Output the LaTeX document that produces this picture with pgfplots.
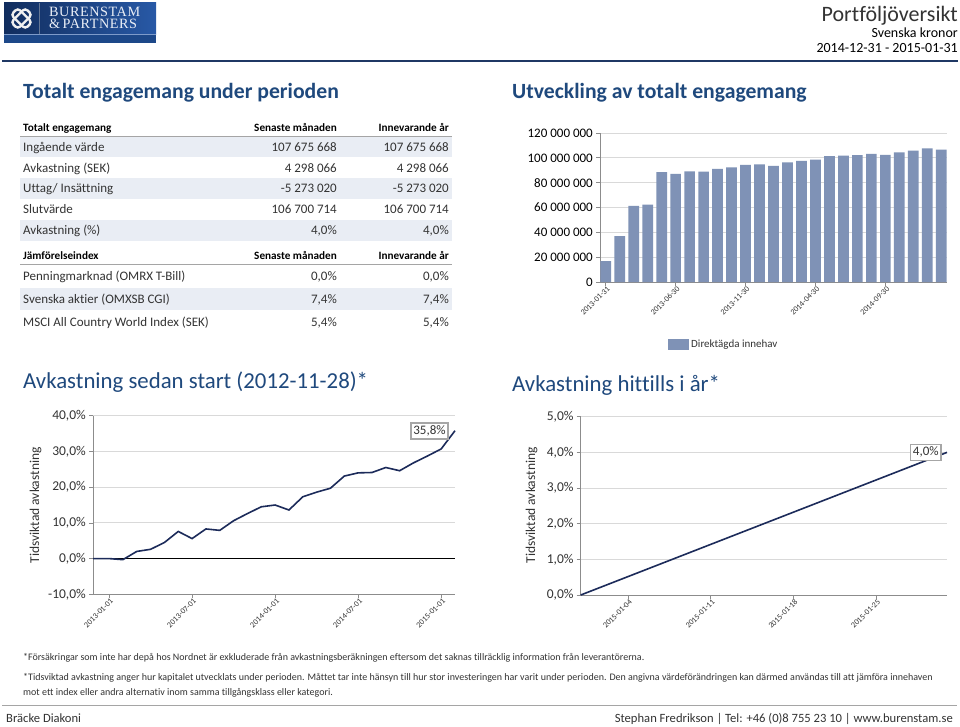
\documentclass[border=0pt]{standalone}
\usepackage{pgfplots}
\pgfplotsset{compat=1.18}
\usepackage{fontspec}
\setmainfont{Carlito}[Ligatures={NoCommon}]
\newfontfamily\logofont{Liberation Serif}[LetterSpace=4]
\definecolor{titleblue}{HTML}{1F497D}
\definecolor{txt}{HTML}{333333}
\definecolor{rowfill}{HTML}{E9EDF4}
\definecolor{hdrline}{HTML}{A5A5A5}
\definecolor{barblue}{HTML}{7F92B6}
\definecolor{linenavy}{HTML}{1C2B5A}
\definecolor{gridgray}{HTML}{D9D9D9}
\definecolor{axisgray}{HTML}{8C8C8C}
\definecolor{topline}{HTML}{1F3864}
\definecolor{logodark}{HTML}{112D5E}
\definecolor{logolight}{HTML}{2859A6}
\definecolor{logoband}{HTML}{1D4889}
\definecolor{boxgray}{HTML}{A6A6A6}
\newcommand\fs[1]{\fontsize{#1}{#1}\selectfont}
\pgfplotsset{
  rep/.style={
    scale only axis, anchor=south west,
    axis x line*=bottom, axis y line*=left,
    axis line style={draw=axisgray,-, line width=0.8pt},
    tick style={draw=axisgray, line width=0.7pt},
    tick align=outside, major tick length=4pt,
    ymajorgrids, grid style={draw=gridgray, line width=0.8pt},
    ticklabel style={text=txt},
    xticklabel style={rotate=45, anchor=east, font=\fs{8}, inner sep=1pt, xshift=2pt, yshift=-3pt},
    yticklabel style={font=\fs{13.5}, inner sep=2pt, xshift=-1pt},
    scaled ticks=false,
    clip=false,
  }
}
\begin{document}
\begin{tikzpicture}
\path[use as bounding box, fill=white] (0pt,0pt) rectangle (960pt,-726pt);
\begin{scope}[x=1pt,y=-1pt]
% ---------- logo ----------
\shade[left color=logodark, right color=logolight] (4,2) rectangle (156,34);
\fill[logoband] (4,34) rectangle (156,43);
\draw[white!40!logolight, line width=0.6pt] (4,34) -- (156,34);
\draw[white!35!logodark, line width=0.8pt] (39,3) -- (39,34);
\begin{scope}[shift={(21.5,18.5)}]
  \draw[white!88!gray, line width=2.4pt, rounded corners=3.5pt, rotate=45] (-10,-4.8) rectangle (10,4.8);
  \draw[white!88!gray, line width=2.4pt, rounded corners=3.5pt, rotate=-45] (-10,-4.8) rectangle (10,4.8);
\end{scope}
\node[anchor=base west, inner sep=0, text=white!90!logolight, font=\logofont\fs{14.2}] at (49,16.7) {BURENSTAM};
\node[anchor=base west, inner sep=0, text=white!90!logolight, font=\logofont\fs{14.2}] at (49,28.3) {\&\,PARTNERS};
% ---------- header right ----------
\node[anchor=base east, inner sep=0, text=txt, font=\fs{22}] at (958,21) {Portföljöversikt};
\node[anchor=base east, inner sep=0, text=black, font=\fs{14}] at (958,37) {Svenska kronor};
\node[anchor=base east, inner sep=0, text=black, font=\fs{14}] at (958,52) {2014-12-31 - 2015-01-31};
\draw[topline, line width=1.6pt] (2,61) -- (958,61);
% ---------- titles ----------
\node[anchor=base west, inner sep=0, text=titleblue, font=\bfseries\fs{21.7}] at (23,98) {Totalt engagemang under perioden};
\node[anchor=base west, inner sep=0, text=titleblue, font=\bfseries\fs{21.7}] at (512,98) {Utveckling av totalt engagemang};
\node[anchor=base west, inner sep=0, text=titleblue, font=\fs{22.8}] at (23,388) {Avkastning sedan start (2012-11-28)*};
\node[anchor=base west, inner sep=0, text=titleblue, font=\fs{22.8}] at (512,391) {Avkastning hittills i år*};
% ---------- table 1 ----------
\fill[rowfill] (20,137) rectangle (452,157);
\fill[rowfill] (20,178) rectangle (452,198.5);
\fill[rowfill] (20,219.5) rectangle (452,240.5);
\fill[rowfill] (20,287.5) rectangle (452,310);
\draw[hdrline, line width=0.9pt] (20,136.7) -- (452,136.7);
\draw[hdrline, line width=0.9pt] (20,264.5) -- (452,264.5);
\begin{scope}[every node/.style={inner sep=0, text=txt}]
\node[anchor=base west, font=\bfseries\fs{11.2}, text=black] at (23,131) {Totalt engagemang};
\node[anchor=base east, font=\bfseries\fs{11.2}, text=black] at (337,131) {Senaste månaden};
\node[anchor=base east, font=\bfseries\fs{11.2}, text=black] at (449,131) {Innevarande år};
\node[anchor=base west, font=\fs{13}] at (23,151) {Ingående värde};
\node[anchor=base east, font=\fs{13}] at (337,151) {107 675 668};
\node[anchor=base east, font=\fs{13}] at (449,151) {107 675 668};
\node[anchor=base west, font=\fs{13}] at (23,172) {Avkastning (SEK)};
\node[anchor=base east, font=\fs{13}] at (337,172) {4 298 066};
\node[anchor=base east, font=\fs{13}] at (449,172) {4 298 066};
\node[anchor=base west, font=\fs{13}] at (23,192.5) {Uttag/ Insättning};
\node[anchor=base east, font=\fs{13}] at (337,192.5) {-5 273 020};
\node[anchor=base east, font=\fs{13}] at (449,192.5) {-5 273 020};
\node[anchor=base west, font=\fs{13}] at (23,213.3) {Slutvärde};
\node[anchor=base east, font=\fs{13}] at (337,213.3) {106 700 714};
\node[anchor=base east, font=\fs{13}] at (449,213.3) {106 700 714};
\node[anchor=base west, font=\fs{13}] at (23,234.3) {Avkastning (\%)};
\node[anchor=base east, font=\fs{13}] at (337,234.3) {4,0\%};
\node[anchor=base east, font=\fs{13}] at (449,234.3) {4,0\%};
\node[anchor=base west, font=\bfseries\fs{11.2}, text=black] at (23,259.5) {Jämförelseindex};
\node[anchor=base east, font=\bfseries\fs{11.2}, text=black] at (337,259.5) {Senaste månaden};
\node[anchor=base east, font=\bfseries\fs{11.2}, text=black] at (449,259.5) {Innevarande år};
\node[anchor=base west, font=\fs{13}] at (23,280) {Penningmarknad (OMRX T-Bill)};
\node[anchor=base east, font=\fs{13}] at (337,280) {0,0\%};
\node[anchor=base east, font=\fs{13}] at (449,280) {0,0\%};
\node[anchor=base west, font=\fs{13}] at (23,303.3) {Svenska aktier (OMXSB CGI)};
\node[anchor=base east, font=\fs{13}] at (337,303.3) {7,4\%};
\node[anchor=base east, font=\fs{13}] at (449,303.3) {7,4\%};
\node[anchor=base west, font=\fs{13}] at (23,326) {MSCI All Country World Index (SEK)};
\node[anchor=base east, font=\fs{13}] at (337,326) {5,4\%};
\node[anchor=base east, font=\fs{13}] at (449,326) {5,4\%};
% axis titles
\node[rotate=90, font=\fs{13.5}] at (35.5,505.3) {Tidsviktad avkastning};
\node[rotate=90, font=\fs{13.5}] at (531.7,505.3) {Tidsviktad avkastning};
% footnotes
\node[anchor=base west, font=\fs{10}] at (23,660) {*Försäkringar som inte har depå hos Nordnet är exkluderade från avkastningsberäkningen eftersom det saknas tillräcklig information från leverantörerna.};
\node[anchor=base west, font=\fs{10}] at (23,680) {*Tidsviktad avkastning anger hur kapitalet utvecklats under perioden. Måttet tar inte hänsyn till hur stor investeringen har varit under perioden. Den angivna värdeförändringen kan därmed användas till att jämföra innehaven};
\node[anchor=base west, font=\fs{10}] at (23,695) {mot ett index eller andra alternativ inom samma tillgångsklass eller kategori.};
\draw[hdrline, line width=1pt] (2,705) -- (957,705);
\node[anchor=base west, font=\fs{12.6}] at (6,722) {Bräcke Diakoni};
\node[anchor=base east, font=\fs{12.6}] at (953,722) {Stephan Fredrikson | Tel: +46 (0)8 755 23 10 | www.burenstam.se};
\end{scope}
\end{scope}

% ---------- bar chart ----------
\begin{axis}[rep,
  at={(600pt,-282pt)}, width=347pt, height=149pt,
  xmin=0.59, xmax=25.41, ymin=0, ymax=120,
  ybar, bar width=10.7pt,
  ytick={0,20,40,60,80,100,120},
  yticklabels={0,20 000 000,40 000 000,60 000 000,80 000 000,100 000 000,120 000 000},
  yticklabel style={font=\fs{13}, text=black},
  xtick={1,6,11,16,21},
  xticklabels={2013-01-31,2013-06-30,2013-11-30,2014-04-30,2014-09-30},
  legend style={at={(0.196,-0.419)}, anchor=west, draw=none, fill=none, font=\fs{11}, text=txt, inner sep=0pt},
]
\addplot[fill=barblue, draw=none, legend image code/.code={\fill[barblue] (0pt,-5.5pt) rectangle (21pt,5.5pt);}] coordinates {
(1,16.9) (2,37.0) (3,61.3) (4,62.4) (5,88.4) (6,87.1) (7,89.2) (8,88.9) (9,91.1) (10,92.4)
(11,94.3) (12,94.8) (13,93.5) (14,96.4) (15,97.5) (16,98.6) (17,101.3) (18,101.8) (19,102.1)
(20,103.1) (21,102.3) (22,104.5) (23,105.8) (24,107.7) (25,106.7)};
\addlegendentry{Direktägda innehav}
\end{axis}

% ---------- since start line chart ----------
\begin{axis}[rep,
  at={(93pt,-594.3pt)}, width=362pt, height=178.6pt,
  xmin=-1.16, xmax=25, ymin=-10, ymax=40,
  ytick={-10,0,10,20,30,40},
  yticklabels={{-10,0\%},{0,0\%},{10,0\%},{20,0\%},{30,0\%},{40,0\%}},
  xtick={0,6,12,18,24},
  xticklabels={2013-01-01,2013-07-01,2014-01-01,2014-07-01,2015-01-01},
  extra y ticks={0}, extra y tick labels={},
  extra y tick style={major grid style={draw=black, line width=1pt}, major tick length=0pt},
]
\addplot[linenavy, line width=1.6pt, mark=none] coordinates {
(-1.16,0) (0,0) (1,-0.3) (2,2.0) (3,2.6) (4,4.5) (5,7.6) (6,5.6) (7,8.3) (8,7.9)
(9,10.6) (10,12.6) (11,14.5) (12,15.0) (13,13.6) (14,17.3) (15,18.6) (16,19.7)
(17,23.1) (18,24.0) (19,24.1) (20,25.5) (21,24.6) (22,26.8) (23,28.7) (24,30.7) (25,35.8)}
node[pos=1, anchor=east, xshift=-6pt, draw=boxgray, fill=white, font=\fs{13}, text=txt, inner sep=2.5pt, minimum height=16pt] {35,8\%};
\end{axis}

% ---------- YTD line chart ----------
\begin{axis}[rep,
  at={(580.7pt,-595pt)}, width=366.3pt, height=178.3pt,
  xmin=0, xmax=31, ymin=0, ymax=5,
  ytick={0,1,2,3,4,5},
  yticklabels={{0,0\%},{1,0\%},{2,0\%},{3,0\%},{4,0\%},{5,0\%}},
  xtick={4,11,18,25},
  xticklabels={2015-01-04,2015-01-11,2015-01-18,2015-01-25},
]
\addplot[linenavy, line width=1.6pt, mark=none] coordinates {(0,0) (31,4.0)}
node[pos=1, anchor=east, xshift=-5pt, draw=boxgray, fill=white, font=\fs{13}, text=txt, inner sep=2.5pt, minimum height=16pt] {4,0\%};
\end{axis}
\end{tikzpicture}
\end{document}
